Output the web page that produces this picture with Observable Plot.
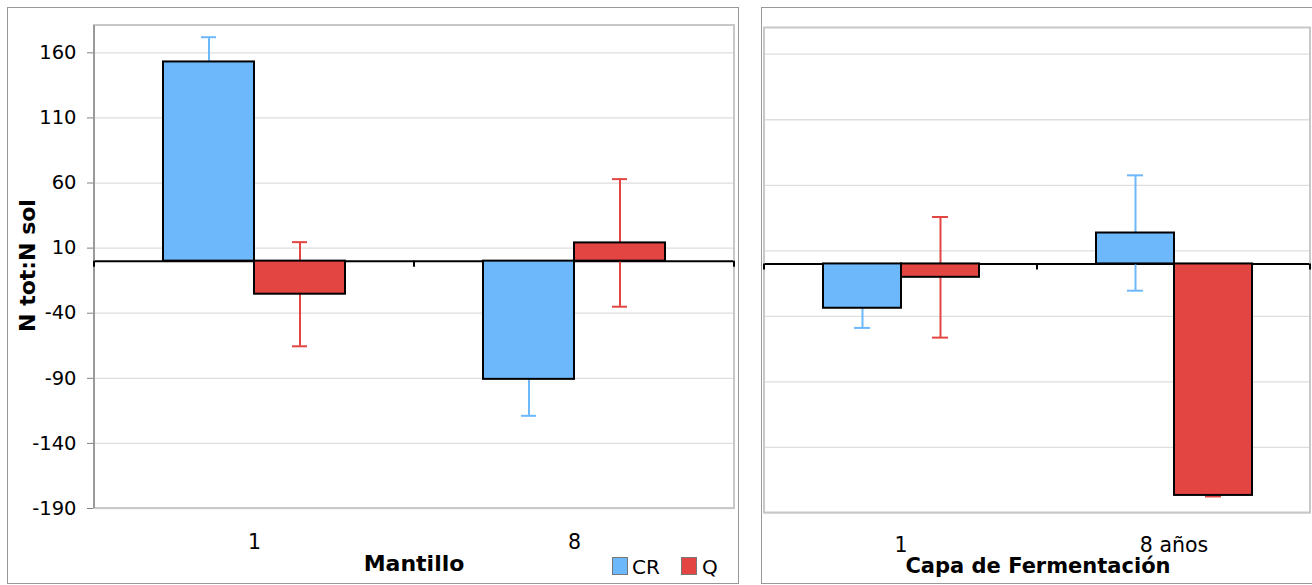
<!DOCTYPE html>
<html>
<head>
<meta charset="utf-8">
<script src="https://cdn.jsdelivr.net/npm/d3@7"></script>
<script src="https://cdn.jsdelivr.net/npm/@observablehq/plot@0.6"></script>
<style>
  html, body { margin: 0; padding: 0; background: #fff; overflow: hidden; }
  body { width: 1312px; height: 585px; position: relative; font-family: "DejaVu Sans", Verdana, sans-serif; }
  .panel { position: absolute; box-sizing: border-box; border: 1px solid #999; background: #fff; }
  .chart { position: absolute; top: 0; }
  .chart svg text { fill: #000; }
  .chart [aria-label="fx-axis tick label"] { font-size: 20.5px; }
  .chart [aria-label="y-axis tick label"] { font-size: 19.5px; }
  .legend { position: absolute; font-size: 20px; color: #000; }
  .legend .sw { position: absolute; width: 16px; height: 18px; box-sizing: border-box; border: 1px solid #777; }
  .legend .lb { position: absolute; line-height: 20px; }
</style>
</head>
<body>
<div class="panel" style="left:7px;top:7px;width:732px;height:577px;"></div>
<div class="panel" style="left:761px;top:7px;width:600px;height:577px;"></div>
<div id="left" class="chart" style="left:0px;"></div>
<div id="right" class="chart" style="left:750px;"></div>
<div id="legend" class="legend"></div>
<script>
// ---- data ----
const seriesNames = ["CR", "Q"];
const seriesColors = ["#6db8fa", "#e34642"];
const yTicks = [160, 110, 60, 10, -40, -90, -140, -190];

const mantilloGroups = ["1", "8"];
const mantilloCR = [153, -90.8];
const mantilloCRerr = [19, 28];
const mantilloQ = [-25.4, 14];
const mantilloQerr = [40, 49];

const fermGroups = ["1", "8 años"];
const fermCR = [-33.8, 23.6];
const fermCRerr = [15, 44];
const fermQ = [-10.2, -176.6];
const fermQerr = [46, 0.8];

const yLabel = "N tot:N sol";
const leftTitle = "Mantillo";
const rightTitle = "Capa de Fermentación";

function rows(groups, cr, crErr, q, qErr) {
  const out = [];
  groups.forEach((g, i) => {
    out.push({group: g, series: "CR", value: cr[i], err: crErr[i]});
    out.push({group: g, series: "Q", value: q[i], err: qErr[i]});
  });
  return out;
}

function makeChart(opts) {
  const {data, groups, width, height, mt, mr, mb, ml, yDomain, showY, capInset, tickPad} = opts;
  const chart = Plot.plot({
    width, height,
    marginTop: mt, marginRight: mr, marginBottom: mb, marginLeft: ml,
    style: {fontFamily: "DejaVu Sans", fontSize: "18px", color: "#808080", background: "transparent", overflow: "visible"},
    fx: {domain: groups, padding: 0, label: null, tickSize: 0, tickPadding: tickPad, axis: "bottom"},
    x: {domain: seriesNames, paddingInner: 0, paddingOuter: 0.743, axis: null},
    y: showY
      ? {domain: yDomain, ticks: yTicks, tickFormat: d => String(d), tickSize: 7, tickPadding: 11, label: null, grid: false}
      : {domain: yDomain, axis: null},
    color: {domain: seriesNames, range: seriesColors},
    marks: [
      Plot.ruleY(yTicks, {stroke: "#dedede", strokeWidth: 1.3}),
      Plot.ruleY([0], {stroke: "#000", strokeWidth: 2}),
      Plot.ruleX(data, {fx: "group", x: "series", y1: d => d.value - d.err, y2: d => d.value + d.err, stroke: "series", strokeWidth: 2}),
      Plot.tickY(data, {fx: "group", x: "series", y: d => d.value + d.err, stroke: "series", strokeWidth: 2, insetLeft: capInset, insetRight: capInset}),
      Plot.tickY(data, {fx: "group", x: "series", y: d => d.value - d.err, stroke: "series", strokeWidth: 2, insetLeft: capInset, insetRight: capInset}),
      Plot.barY(data, {fx: "group", x: "series", y: "value", fill: "series", stroke: "#000", strokeWidth: 2})
    ]
  });
  // decorations from the chart's own scales
  const fx = chart.scale("fx"), y = chart.scale("y");
  const band = d3.scaleBand().domain(fx.domain).range(fx.range).padding(0);
  const ys = d3.scaleLinear().domain(y.domain).range(y.range);
  const svg = d3.select(chart);
  const x0 = fx.range[0], x1 = fx.range[1];
  const yt = Math.min(...y.range), yb = Math.max(...y.range);
  const deco = svg.append("g");
  deco.append("rect").attr("x", x0).attr("y", yt).attr("width", x1 - x0).attr("height", yb - yt)
    .attr("fill", "none").attr("stroke", "#c8c8c8").attr("stroke-width", 2);
  if (showY) {
    deco.append("line").attr("x1", x0).attr("x2", x0).attr("y1", yt).attr("y2", yb)
      .attr("stroke", "#808080").attr("stroke-width", 1.3);
  }
  const edges = fx.domain.map(g => band(g)).concat([band(fx.domain[fx.domain.length - 1]) + band.bandwidth()]);
  edges.forEach(e => {
    deco.append("line").attr("x1", e).attr("x2", e).attr("y1", ys(0)).attr("y2", ys(0) + 6)
      .attr("stroke", "#000").attr("stroke-width", 2);
  });
  return {chart, svg, band, ys};
}

// left panel
const L = makeChart({
  data: rows(mantilloGroups, mantilloCR, mantilloCRerr, mantilloQ, mantilloQerr),
  groups: mantilloGroups, width: 745, height: 585, mt: 25, mr: 11, mb: 77, ml: 94,
  yDomain: [-190, 181], showY: true, capInset: 38, tickPad: 26
});
document.getElementById("left").appendChild(L.chart);
L.svg.append("text").attr("transform", "translate(35,265.5) rotate(-90)")
  .attr("text-anchor", "middle").style("font-weight", "bold").style("font-size", "22px").text(yLabel);
L.svg.append("text").attr("x", 414).attr("y", 571)
  .attr("text-anchor", "middle").style("font-weight", "bold").style("font-size", "22px").text(leftTitle);

// right panel
const R = makeChart({
  data: rows(fermGroups, fermCR, fermCRerr, fermQ, fermQerr),
  groups: fermGroups, width: 562, height: 585, mt: 27.5, mr: 2, mb: 72.5, ml: 14,
  yDomain: [-190, 180], showY: false, capInset: 31, tickPad: 24.5
});
document.getElementById("right").appendChild(R.chart);
R.svg.append("text").attr("x", 288).attr("y", 573)
  .attr("text-anchor", "middle").style("font-weight", "bold").style("font-size", "21px").text(rightTitle);

// legend
const leg = document.getElementById("legend");
leg.style.left = "0px"; leg.style.top = "0px";
const legPos = [{sx: 612, tx: 632}, {sx: 681, tx: 702}];
seriesNames.forEach((s, i) => {
  const sw = document.createElement("div");
  sw.className = "sw";
  sw.style.left = legPos[i].sx + "px"; sw.style.top = "557px";
  sw.style.background = seriesColors[i];
  leg.appendChild(sw);
  const lb = document.createElement("div");
  lb.className = "lb";
  lb.style.left = legPos[i].tx + "px"; lb.style.top = "557px";
  lb.textContent = s;
  leg.appendChild(lb);
});
</script>
</body>
</html>
